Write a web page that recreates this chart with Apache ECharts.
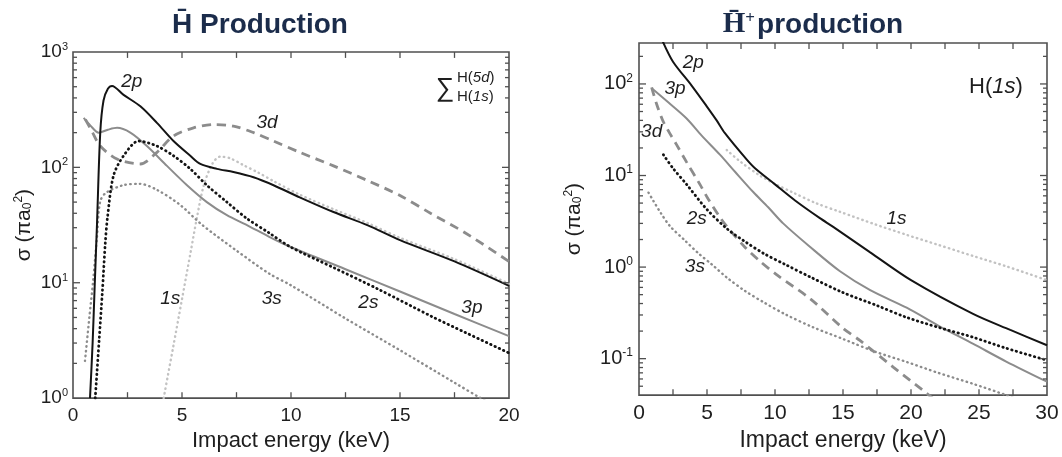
<!DOCTYPE html>
<html><head><meta charset="utf-8">
<script src="https://cdn.jsdelivr.net/npm/echarts@6/dist/echarts.min.js"></script>
<style>html,body{margin:0;padding:0;background:#fff}#c{width:1062px;height:457px}</style>
</head><body><div id="c"></div>
<script>
// ---- Left panel: H-bar production, sum H(1s)..H(5d); [E (keV), sigma (pi a0^2)]
const L_2p = [[0.78,1],[0.9,3],[1.0,10],[1.1,32],[1.25,200],[1.4,380],[1.6,480],[1.79,508],[2.32,425],[3.09,338],[3.85,243],[4.61,169],[5.38,126],[5.84,107],[6.6,97],[7.36,91],[8.28,82],[9.2,70],[10.4,55],[11.95,41],[13.5,31.6],[15,23.4],[17.5,15.3],[20,9.4]];
const L_2s = [[1.02,1],[1.2,3.2],[1.35,8.5],[1.48,22],[1.59,38],[1.86,85],[2.32,126],[3.01,169],[3.85,153],[4.61,126],[5.38,97],[6.14,70],[7.06,50],[7.98,36],[9,27],[9.96,20.5],[12,13.4],[14,8.8],[16.5,5.05],[18,3.7],[20,2.46]];
const L_3p = [[0.49,268],[0.8,230],[1.18,200],[1.6,212],[2.02,220],[2.63,200],[3.39,153],[4.31,103],[5.23,70],[6.14,50],[7.06,38.5],[7.98,31.6],[9,25],[9.96,20.5],[12.5,13.1],[15,8.4],[17.5,5.36],[20,3.45]];
const L_3d = [[0.57,260],[0.9,200],[1.25,153],[2.02,118],[3.09,107],[3.85,135],[4.61,187],[5.53,220],[6.45,235],[7.36,228],[8.28,200],[9.2,169],[10.4,135],[11.95,103],[13.5,77],[15,57],[16.4,40],[18,27],[20,15.3]];
const L_3s = [[0.55,2.1],[0.75,5],[0.93,10.7],[1.1,25],[1.24,50],[1.5,60],[2.3,70],[3.07,72],[3.84,64],[4.9,47.5],[5.9,32],[7.5,19],[9,12],[10,9.5],[12.5,4.9],[15,2.6],[17.5,1.36],[18.7,1],[20,0.72]];
const L_1s = [[4.16,1],[4.6,2.8],[5.0,7.2],[5.4,18.6],[5.7,38],[6.0,70],[6.4,108],[6.75,124],[7.2,120],[7.8,105],[8.5,90],[9.2,76],[10.4,58],[12,43],[13.5,33],[15,24.5],[17.5,16],[20,9.8]];
// ---- Right panel: H-bar+ production from H(1s)
const R_2p = [[1.75,290],[2.5,175],[3.87,96],[4.98,57],[5.71,40],[6.32,29],[7.91,15],[8.53,12],[10,8],[11.5,5.3],[13.3,3.42],[14.28,2.75],[17,1.45],[20,0.72],[24.6,0.306],[27.3,0.206],[30,0.14]];
const R_3p = [[1.0,88],[2.15,63],[3.5,42],[4.61,27.3],[5.95,16.9],[7.06,11],[8.4,6.6],[9.5,4.5],[10.6,3.0],[12.5,1.7],[14.78,0.9],[17,0.56],[19.68,0.36],[22,0.23],[24.58,0.145],[27,0.093],[30,0.056]];
const R_3d = [[0.93,92],[1.3,60],[1.79,38.6],[2.2,30],[2.77,21.6],[3.5,14],[4.48,8],[5.1,5.5],[5.95,3.5],[6.44,2.8],[7.79,1.65],[8.89,1.16],[10.24,0.8],[12.6,0.45],[15,0.215],[16.24,0.158],[18.69,0.081],[21.14,0.042],[22,0.033]];
const R_2s = [[1.79,16.9],[2.5,12],[3.5,8],[4.97,4.3],[6.5,2.6],[7.79,1.9],[9.2,1.4],[10.74,1.07],[12.7,0.765],[15,0.527],[17.5,0.38],[19.68,0.282],[22,0.22],[24.58,0.171],[27,0.13],[30,0.096]];
const R_3s = [[0.7,6.5],[1.05,5.3],[1.6,3.9],[2.28,2.8],[3.38,1.95],[4.4,1.4],[5.35,1.07],[6.5,0.76],[7.79,0.55],[9.2,0.41],[10.74,0.306],[12.8,0.22],[15,0.164],[17.3,0.12],[19.68,0.092],[22,0.07],[24.58,0.053],[27,0.04],[28,0.035]];
const R_1s = [[6.45,19],[7.5,14],[8.89,10],[10,8.1],[11.34,6.5],[13,5],[14.8,4.0],[17.3,2.95],[19.68,2.25],[22,1.75],[24.58,1.32],[27,1.02],[30,0.72]];
// ---- axis ranges and ticks
const L_xRange = [0,20], R_xRange = [0,30];
const L_yRange = [1,1000], R_yRange = [0.04,280];
const L_xLabels = [0,5,10,15,20];
const R_xLabels = [0,5,10,15,20,25,30];
const L_xTicks = [2.5,5,7.5,10,12.5,15,17.5];
const R_xTicks = [2.5,5,7.5,10,12.5,15,17.5,20,22.5,25,27.5];
const L_yMajor = [1,10,100,1000];
const R_yMajor = [0.1,1,10,100];
function minorTicks(lo, hi){ const out=[]; for(let e=Math.floor(Math.log10(lo)); e<=Math.ceil(Math.log10(hi)); e++){ for(let k=2;k<=9;k++){ const v=+(k*Math.pow(10,e)).toPrecision(3); if(v>lo && v<hi) out.push(v);} } return out; }

const FONT = '"Liberation Sans", Arial, Helvetica, sans-serif';
const INK = '#1e1e1e';
const AX = '#505050';
const CW = 1062, CH = 457;
const GRIDS = [
  {left:73, right:553, top:52, bottom:54, show:true, borderColor:AX, borderWidth:1.6, backgroundColor:'rgba(0,0,0,0)'},
  {left:639, right:15, top:43, bottom:59, show:true, borderColor:AX, borderWidth:1.6, backgroundColor:'rgba(0,0,0,0)'}
];
const chart = echarts.init(document.getElementById('c'));

function supLabel(v){ const e = Math.round(Math.log10(v)); return '{b|10}{s|' + e + '}'; }
function xAxis(g, range, labels, fs, gap, nfs){
  return {type:'value', gridIndex:g, position:'bottom', min:range[0], max:range[1], interval:5,
    axisLine:{show:false}, splitLine:{show:false}, axisTick:{show:false},
    axisLabel:{show:true, customValues:labels, margin:8, fontSize:fs, fontFamily:FONT, color:INK},
    name:'Impact energy (keV)', nameLocation:'middle', nameGap:gap,
    nameTextStyle:{fontSize:nfs, fontFamily:FONT, color:INK}};
}
function yAxis(g, range, majors, fs, margin, nameGap){
  return {type:'log', logBase:10, gridIndex:g, position:'left', min:range[0], max:range[1],
    axisLine:{show:false}, splitLine:{show:false}, axisTick:{show:false},
    axisLabel:{show:true, customValues: majors, formatter: supLabel, margin: margin,
      rich:{ b:{fontSize:fs, fontFamily:FONT, color:INK},
             s:{fontSize:Math.round(fs*0.58), fontFamily:FONT, color:INK, padding:[0,0,fs*0.55,0]} } },
    name:'{t|σ (πa}{sub|0}{sup|2}{t|)}', nameLocation:'middle', nameGap:nameGap,
    nameTextStyle:{color:INK, rich:{ t:{fontSize:21, fontFamily:FONT, color:INK},
      sub:{fontSize:12, fontFamily:FONT, color:INK, padding:[8,0,0,0]},
      sup:{fontSize:12, fontFamily:FONT, color:INK, padding:[0,0,10,0]} }}};
}
const labelStyle = {show:true, position:'inside', fontSize:19, fontStyle:'italic', fontFamily:FONT, color:INK};
function ann(text, x, y){ return {coord:[x,y], value:text, label:Object.assign({}, labelStyle, {formatter:text})}; }
function line(data, xi, yi, style, anns){
  const s = {type:'line', data:data, xAxisIndex:xi, yAxisIndex:yi, showSymbol:false, symbol:'none',
    smooth:0.3, clip:true, silent:true, lineStyle:style};
  if (anns) s.markPoint = {silent:true, symbol:'circle', symbolSize:0, data:anns, itemStyle:{color:'transparent'}};
  return s;
}
// tick marks as short two-point line segments on the axes' own scales (inward, all four sides)
function tickSeries(g, xr, yr, xTicks, yMajor, yMinor){
  const gr = GRIDS[g];
  const gw = CW - gr.left - gr.right, gh = CH - gr.top - gr.bottom;
  const pxPerX = gw / (xr[1] - xr[0]);
  const pxPerDecade = gh / (Math.log10(yr[1]) - Math.log10(yr[0]));
  const out = [];
  const seg = (a, b) => out.push({type:'line', xAxisIndex:g, yAxisIndex:g, data:[a, b], symbol:'none', showSymbol:false,
    clip:false, silent:true, z:4, lineStyle:{color:AX, width:1.3, type:'solid'}});
  const f = Math.pow(10, 6 / pxPerDecade);
  xTicks.forEach(v => { seg([v, yr[0]], [v, yr[0] * f]); seg([v, yr[1]], [v, yr[1] / f]); });
  const yt = (v, L) => {
    if (!(v > yr[0] && v < yr[1])) return;
    const dx = L / pxPerX;
    seg([xr[0], v], [xr[0] + dx, v]); seg([xr[1], v], [xr[1] - dx, v]);
  };
  yMajor.forEach(v => yt(v, 7));
  yMinor.forEach(v => yt(v, 4));
  return out;
}
const sBlack = {color:'#141414', width:2};
const sBlackDot = {color:'#141414', width:2.8, type:[0.5,4.2], cap:'round'};
const sGrey = {color:'#8c8c8c', width:2};
const sGreyDash = {color:'#8c8c8c', width:2.8, type:[9,6]};
const sGreyDot = {color:'#8c8c8c', width:2.4, type:[0.5,4.3], cap:'round'};
const sLightDot = {color:'#c2c2c2', width:2.4, type:[0.5,4.3], cap:'round'};

const texts = [
  {type:'text', x:260, y:25, style:{text:'H\u0304 Production', fontSize:28, fontWeight:'bold', fontFamily:FONT, fill:'#1b2c4b', align:'center', verticalAlign:'middle'}},
  {type:'text', x:813, y:25, style:{text:'{h|H\u0304}{p|+}{t|production}', align:'center', verticalAlign:'middle',
    rich:{h:{fontSize:29, fontWeight:'bold', fontFamily:'"Liberation Serif", serif', fill:'#1b2c4b'},
          p:{fontSize:17, fontWeight:'bold', fontFamily:'"Liberation Serif", serif', fill:'#1b2c4b', padding:[0,2,12,0]},
          t:{fontSize:28, fontWeight:'bold', fontFamily:FONT, fill:'#1b2c4b'}}}},
  {type:'text', x:445, y:89, style:{text:'\u2211', fontSize:26, fontFamily:FONT, fill:INK, align:'center', verticalAlign:'middle'}},
  {type:'text', x:457, y:78, style:{text:'{n|H(}{i|5d}{n|)}', verticalAlign:'middle', align:'left',
    rich:{n:{fontSize:15, fontFamily:FONT, fill:INK}, i:{fontSize:15, fontStyle:'italic', fontFamily:FONT, fill:INK}}}},
  {type:'text', x:457, y:97, style:{text:'{n|H(}{i|1s}{n|)}', verticalAlign:'middle', align:'left',
    rich:{n:{fontSize:15, fontFamily:FONT, fill:INK}, i:{fontSize:15, fontStyle:'italic', fontFamily:FONT, fill:INK}}}},
  {type:'text', x:996, y:87, style:{text:'{n|H(}{i|1s}{n|)}', verticalAlign:'middle', align:'center',
    rich:{n:{fontSize:22, fontFamily:FONT, fill:INK}, i:{fontSize:22, fontStyle:'italic', fontFamily:FONT, fill:INK}}}}
];

const series = [
  line(L_1s,0,0,sLightDot,[ann('1s',4.46,7.2)]),
  line(L_3s,0,0,sGreyDot,[ann('3s',9.12,7.2)]),
  line(L_3d,0,0,sGreyDash,[ann('3d',8.9,243)]),
  line(L_3p,0,0,sGrey,[ann('3p',18.3,6.13)]),
  line(L_2s,0,0,sBlackDot,[ann('2s',13.55,6.77)]),
  line(L_2p,0,0,sBlack,[ann('2p',2.7,553)]),
  line(R_1s,1,1,sLightDot,[ann('1s',18.93,3.35)]),
  line(R_3s,1,1,sGreyDot,[ann('3s',4.11,1.0)]),
  line(R_3d,1,1,sGreyDash,[ann('3d',0.93,30)]),
  line(R_3p,1,1,sGrey,[ann('3p',2.65,88)]),
  line(R_2s,1,1,sBlackDot,[ann('2s',4.24,3.35)]),
  line(R_2p,1,1,sBlack,[ann('2p',3.99,171)])
].concat(
  tickSeries(0, L_xRange, L_yRange, L_xTicks, L_yMajor, minorTicks(L_yRange[0], L_yRange[1])),
  tickSeries(1, R_xRange, R_yRange, R_xTicks, R_yMajor, minorTicks(R_yRange[0], R_yRange[1]))
);

chart.setOption({
  animation:false,
  grid: GRIDS,
  xAxis:[ xAxis(0, L_xRange, L_xLabels, 19, 26, 22), xAxis(1, R_xRange, R_xLabels, 21, 29, 23) ],
  yAxis:[ yAxis(0, L_yRange, L_yMajor, 19, 5, 38), yAxis(1, R_yRange, R_yMajor, 20, 6, 54) ],
  series: series,
  graphic: texts
});
</script></body></html>
